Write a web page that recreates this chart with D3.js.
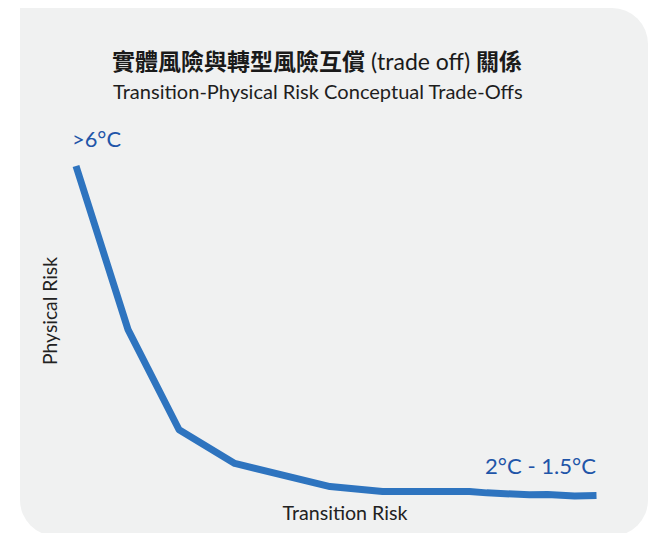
<!DOCTYPE html>
<html><head><meta charset="utf-8">
<script src="https://cdn.jsdelivr.net/npm/d3@7"></script>
<style>html,body{margin:0;padding:0;background:#fff;}svg{display:block;}</style>
</head><body>
<svg id="c" width="657" height="533"></svg>
<script>
const transitionRisk = [0, 10, 19.8, 30.5, 48.8, 58.9, 75.6, 78.9, 87.1, 90.6, 95.8, 100];
const physicalRisk   = [100, 50.5, 20.2, 10, 3, 1.5, 1.5, 1.1, 0.5, 0.6, 0.15, 0.3];
const titleParts = ["實體風險與轉型風險互償", " (trade off) ", "關係"];
const subtitleText = "Transition-Physical Risk Conceptual Trade-Offs";
const startLabel = ">6°C";
const endLabel = "2°C - 1.5°C";
const xAxisLabel = "Transition Risk";
const yAxisLabel = "Physical Risk";

const svg = d3.select("#c");

// panel with rounded corners except top-left
const px0 = 20, py0 = 8, px1 = 648, py1 = 536, r = 36;
svg.append("path")
  .attr("d", `M${px0},${py0} H${px1-r} A${r},${r} 0 0 1 ${px1},${py0+r} V${py1-r} A${r},${r} 0 0 1 ${px1-r},${py1} H${px0+r} A${r},${r} 0 0 1 ${px0},${py1-r} Z`)
  .attr("fill", "#f0f1f1");

const x = d3.scaleLinear().domain([0, 100]).range([76, 596.5]);
const y = d3.scaleLinear().domain([0, 100]).range([496.5, 166]);

const data = transitionRisk.map((t, i) => ({t, p: physicalRisk[i]}));
svg.append("path")
  .datum(data)
  .attr("fill", "none")
  .attr("stroke", "#2e74bf")
  .attr("stroke-width", 7)
  .attr("stroke-linejoin", "round")
  .attr("d", d3.line().x(d => x(d.t)).y(d => y(d.p)));

function fit(sel, w) {
  const cur = sel.node().getComputedTextLength();
  const fs = parseFloat(sel.attr("font-size"));
  sel.attr("font-size", fs * w / cur);
}

const title = svg.append("text").attr("x", 112).attr("y", 70)
  .attr("font-family", "'Noto Sans CJK TC', 'Noto Sans', sans-serif")
  .attr("font-size", 20).attr("fill", "#1a1a1a");
title.selectAll("tspan").data(titleParts).join("tspan")
  .attr("font-weight", (d, i) => i === 1 ? 400 : 700)
  .attr("font-family", (d, i) => i === 1 ? "Lato, 'Noto Sans', sans-serif" : null)
  .attr("xml:space", "preserve")
  .text(d => d);
title.attr("xml:space", "preserve");
fit(title, 410);

const sub = svg.append("text").attr("x", 113).attr("y", 99)
  .attr("font-family", "Lato, 'Noto Sans', sans-serif")
  .attr("font-weight", 400).attr("font-size", 18).attr("fill", "#1e1e1e")
  .text(subtitleText);
fit(sub, 410);

const sl = svg.append("text").attr("x", 72).attr("y", 147)
  .attr("font-family", "Lato, 'Noto Sans', sans-serif")
  .attr("font-size", 21).attr("fill", "#1f55a8")
  .text(startLabel);
fit(sl, 49);

const el = svg.append("text").attr("x", 596).attr("y", 474)
  .attr("text-anchor", "end")
  .attr("font-family", "Lato, 'Noto Sans', sans-serif")
  .attr("font-size", 21).attr("fill", "#1f55a8")
  .text(endLabel);
fit(el, 111);

const xl = svg.append("text").attr("x", 345).attr("y", 520)
  .attr("text-anchor", "middle")
  .attr("font-family", "Lato, 'Noto Sans', sans-serif")
  .attr("font-size", 16).attr("fill", "#222")
  .text(xAxisLabel);
fit(xl, 125);

const yl = svg.append("text")
  .attr("transform", "translate(57,311) rotate(-90)")
  .attr("text-anchor", "middle")
  .attr("font-family", "Lato, 'Noto Sans', sans-serif")
  .attr("font-size", 16).attr("fill", "#222")
  .text(yAxisLabel);
fit(yl, 108);
</script>
</body></html>
